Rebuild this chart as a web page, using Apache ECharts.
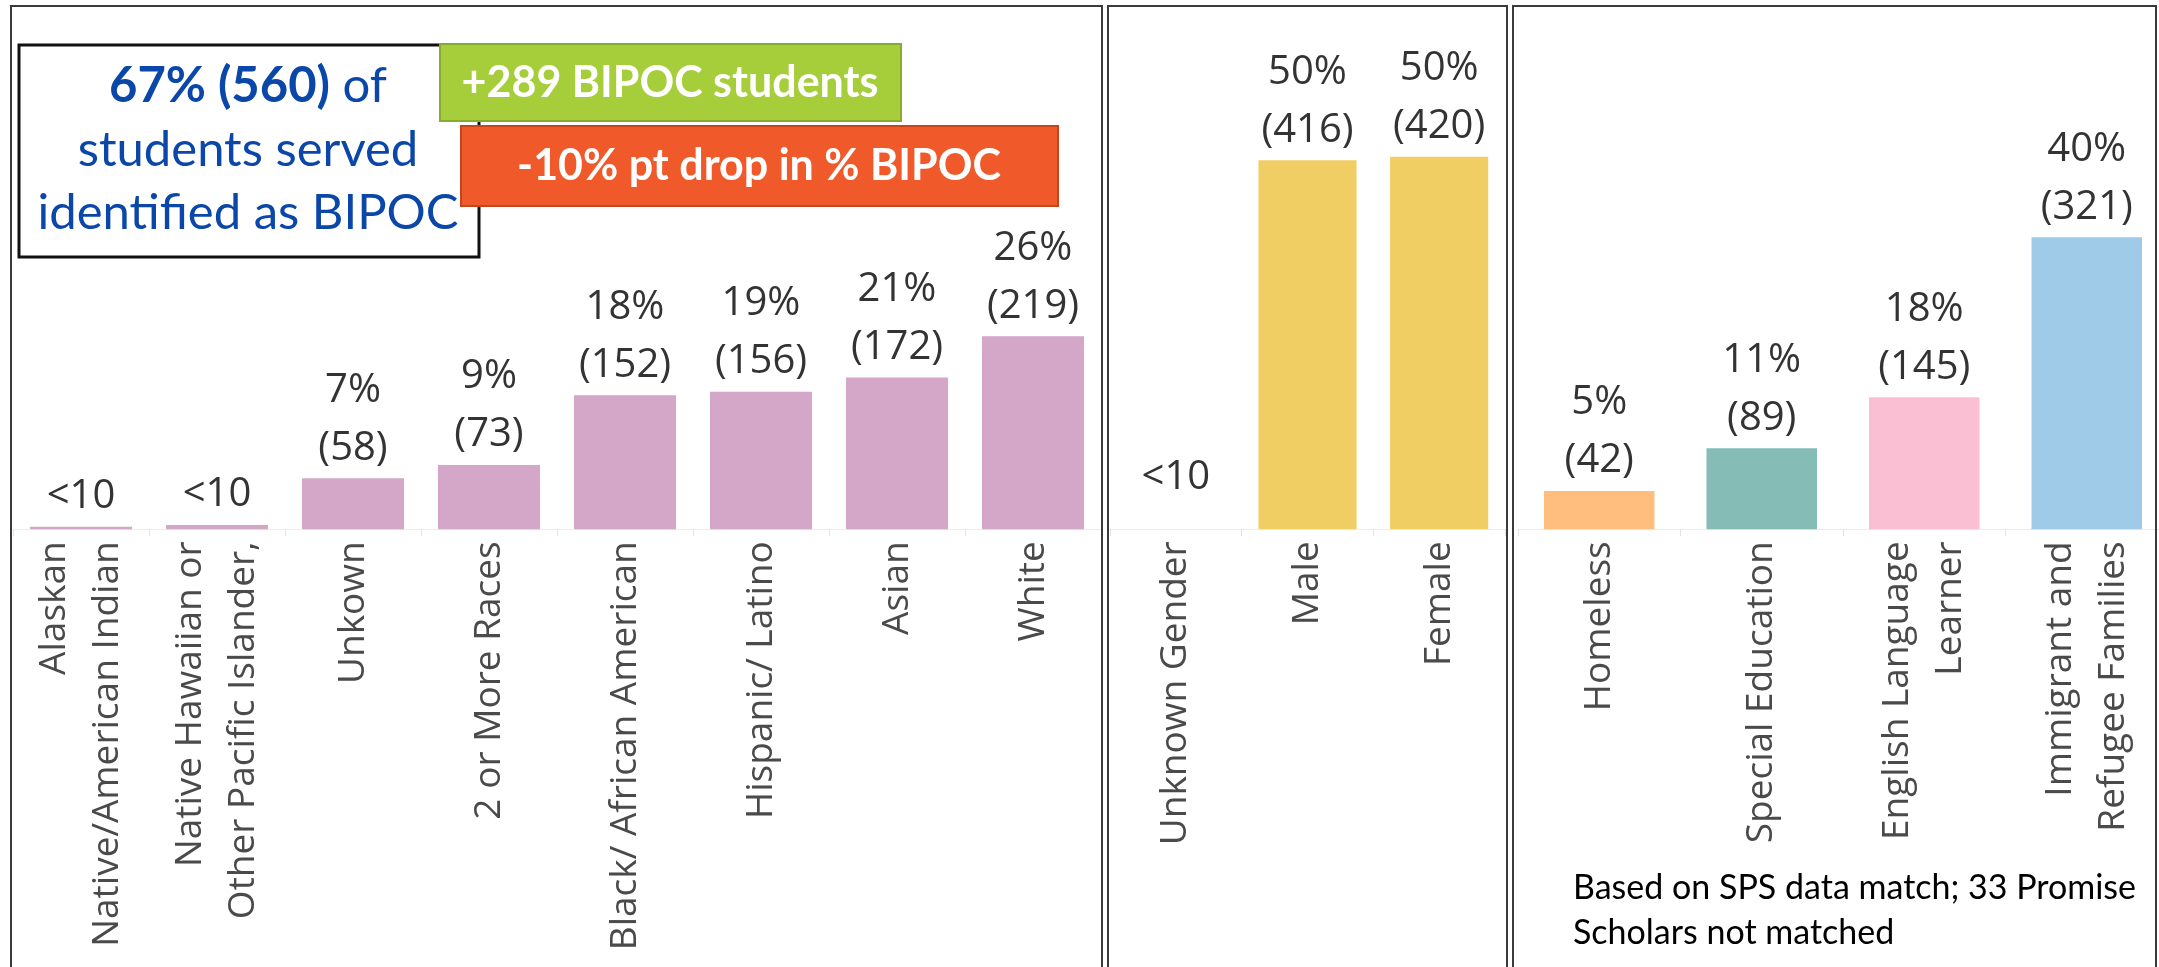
<!DOCTYPE html>
<html>
<head>
<meta charset="utf-8">
<script src="https://cdn.jsdelivr.net/npm/echarts@6/dist/echarts.min.js"></script>
<style>
  html, body { margin: 0; padding: 0; background: #ffffff; }
  #chart { width: 2159px; height: 967px; }
</style>
</head>
<body>
<div id="chart"></div>
<script>
// ---------- DATA ----------
const raceCategories = ['Alaskan\nNative/American Indian', 'Native Hawaiian or\nOther Pacific Islander,', 'Unkown', '2 or More Races', 'Black/ African American', 'Hispanic/ Latino', 'Asian', 'White'];
const raceValues = [3, 5, 58, 73, 152, 156, 172, 219];
const racePercents = [null, null, 7, 9, 18, 19, 21, 26];

const genderCategories = ['Unknown Gender', 'Male', 'Female'];
const genderValues = [0, 416, 420];
const genderPercents = [null, 50, 50];

const needCategories = ['Homeless', 'Special Education', 'English Language\nLearner', 'Immigrant and\nRefugee Families'];
const needValues = [42, 89, 145, 321];
const needPercents = [5, 11, 18, 40];

// ---------- STYLE ----------
const raceColor = '#D4A6C8';
const genderColor = '#F1CE63';
const needColors = ['#FFBE7D', '#86BCB6', '#FABFD2', '#A0CBE8'];

const labelFont = 'Open Sans';
const boxFont = 'Lato';

function makeLabel(values, percents) {
  return function (p) {
    const v = values[p.dataIndex];
    const pct = percents[p.dataIndex];
    if (v < 10 || pct === null) return '<10';
    return pct + '%\n(' + v + ')';
  };
}

const baseLabel = {
  show: true,
  position: 'top',
  distance: 1,
  fontFamily: labelFont,
  fontSize: 40,
  lineHeight: 58,
  color: '#333333'
};

function xAxisFor(gridIndex, cats) {
  return {
    type: 'category',
    gridIndex: gridIndex,
    data: cats,
    axisLine: { show: true, lineStyle: { color: '#ececec', width: 1 } },
    axisTick: { show: true, length: 7, lineStyle: { color: '#e2e2e2' } },
    axisLabel: {
      interval: 0,
      rotate: 90,
      margin: 12,
      fontFamily: labelFont,
      fontSize: 37,
      lineHeight: 53,
      color: '#4a4a4a'
    },
    splitLine: { show: false }
  };
}
function yAxisFor(gridIndex) {
  return { type: 'value', gridIndex: gridIndex, min: 0, max: 500, show: false, splitLine: { show: false } };
}

const chart = echarts.init(document.getElementById('chart'), null, { renderer: 'canvas' });

const option = {
  backgroundColor: '#ffffff',
  animation: false,
  textStyle: { fontFamily: labelFont },
  grid: [
    { left: 13, width: 1088, top: 88.3, height: 441, containLabel: false, outerBoundsMode: 'none' },
    { left: 1110, width: 395, top: 85.8, height: 443.5, containLabel: false, outerBoundsMode: 'none' },
    { left: 1518, width: 650, top: 74.3, height: 455, containLabel: false, outerBoundsMode: 'none' }
  ],
  xAxis: [
    xAxisFor(0, raceCategories),
    xAxisFor(1, genderCategories),
    xAxisFor(2, needCategories)
  ],
  yAxis: [yAxisFor(0), yAxisFor(1), yAxisFor(2)],
  series: [
    {
      type: 'bar',
      xAxisIndex: 0, yAxisIndex: 0,
      data: raceValues,
      barCategoryGap: '25%',
      itemStyle: { color: raceColor },
      label: Object.assign({}, baseLabel, { formatter: makeLabel(raceValues, racePercents) })
    },
    {
      type: 'bar',
      xAxisIndex: 1, yAxisIndex: 1,
      data: genderValues.map(function (v) {
        return v === 0 ? { value: v, label: { distance: 23 } } : v;
      }),
      barCategoryGap: '25.5%',
      itemStyle: { color: genderColor },
      label: Object.assign({}, baseLabel, { formatter: makeLabel(genderValues, genderPercents) })
    },
    {
      type: 'bar',
      xAxisIndex: 2, yAxisIndex: 2,
      data: needValues.map(function (v, i) {
        return { value: v, itemStyle: { color: needColors[i] } };
      }),
      barCategoryGap: '32%',
      label: Object.assign({}, baseLabel, { formatter: makeLabel(needValues, needPercents) })
    }
  ],
  graphic: [
    // panel frames
    { type: 'rect', z: 50, silent: true, shape: { x: 11, y: 6, width: 1091, height: 1000 }, style: { fill: 'none', stroke: '#3a3a3a', lineWidth: 2 } },
    { type: 'rect', z: 50, silent: true, shape: { x: 1108, y: 6, width: 399, height: 1000 }, style: { fill: 'none', stroke: '#3a3a3a', lineWidth: 2 } },
    { type: 'rect', z: 50, silent: true, shape: { x: 1513, y: 6, width: 643, height: 1000 }, style: { fill: 'none', stroke: '#3a3a3a', lineWidth: 2 } },
    // summary box
    { type: 'rect', z: 100, silent: true, shape: { x: 19, y: 45, width: 460, height: 212 }, style: { fill: '#ffffff', stroke: '#111111', lineWidth: 3 } },
    {
      type: 'text', z: 101, silent: true, x: 248, y: 150,
      style: {
        text: '{b|67% (560)}{r| of}\n{r|students served}\n{r|identified as BIPOC}',
        align: 'center', verticalAlign: 'middle',
        rich: {
          b: { fontFamily: boxFont, fontWeight: 'bold', fontSize: 49, lineHeight: 63.5, fill: '#0a47a8' },
          r: { fontFamily: boxFont, fontWeight: 'normal', fontSize: 49, lineHeight: 63.5, fill: '#0a47a8' }
        }
      }
    },
    // green badge
    { type: 'rect', z: 102, silent: true, shape: { x: 440, y: 44, width: 461, height: 77 }, style: { fill: '#a6cd3a', stroke: '#88aa2e', lineWidth: 2 } },
    {
      type: 'text', z: 103, silent: true, x: 670, y: 83,
      style: { text: '+289 BIPOC students', align: 'center', verticalAlign: 'middle', fontFamily: boxFont, fontWeight: 'bold', fontSize: 43, fill: '#ffffff' }
    },
    // orange badge
    { type: 'rect', z: 104, silent: true, shape: { x: 461, y: 126, width: 597, height: 80 }, style: { fill: '#f0592a', stroke: '#c4461d', lineWidth: 2 } },
    {
      type: 'text', z: 105, silent: true, x: 759, y: 166,
      style: { text: '-10% pt drop in % BIPOC', align: 'center', verticalAlign: 'middle', fontFamily: boxFont, fontWeight: 'bold', fontSize: 43, fill: '#ffffff' }
    },
    // footnote
    {
      type: 'text', z: 105, silent: true, x: 1573, y: 910.5,
      style: { text: 'Based on SPS data match; 33 Promise\nScholars not matched', align: 'left', verticalAlign: 'middle', fontFamily: boxFont, fontSize: 34, lineHeight: 45, fill: '#000000' }
    }
  ]
};

chart.setOption(option);
</script>
</body>
</html>
